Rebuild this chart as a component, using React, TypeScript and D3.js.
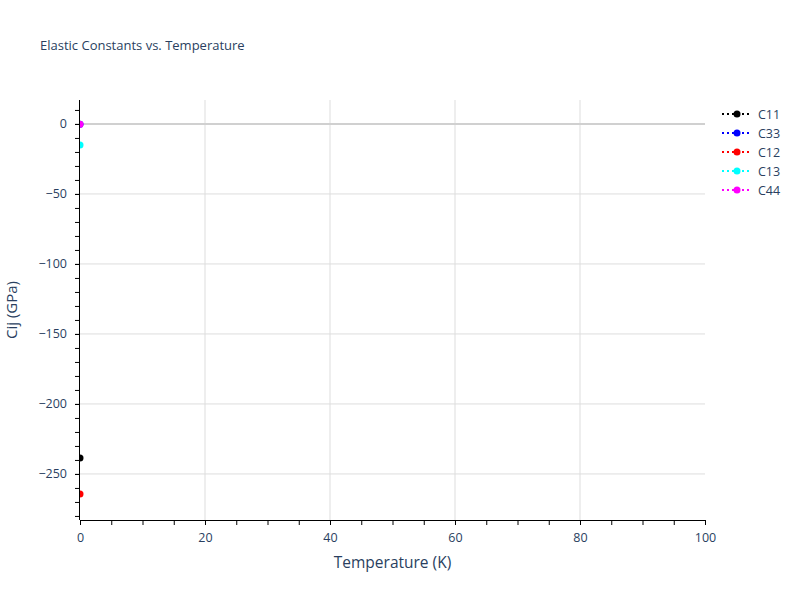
import React, { useRef, useEffect } from 'react';
import * as d3 from 'd3';

// chart data
const temperatures = [0];
const seriesNames = ['C11', 'C33', 'C12', 'C13', 'C44'];
const seriesColors = ['#000000', '#0000ff', '#ff0000', '#00ffff', '#ff00ff'];
const c11 = [-238.6];
const c33 = [-0.3];
const c12 = [-264.3];
const c13 = [-15.0];
const c44 = [-0.3];
const seriesValues = [c11, c33, c12, c13, c44];
const xTicks = [0, 20, 40, 60, 80, 100];
const yTicks = [0, -50, -100, -150, -200, -250];

const App: React.FC = () => {
  const svgRef = useRef<SVGSVGElement>(null);

  useEffect(() => {
    if (!svgRef.current) return;
    const svg = d3.select(svgRef.current);
    svg.selectAll('*').remove();

    const margin = { top: 100, right: 95, bottom: 80, left: 80 };
    const width = 800 - margin.left - margin.right;
    const height = 600 - margin.top - margin.bottom;
    const font = '"Open Sans", verdana, arial, sans-serif';
    const textColor = '#2a3f5f';

    const x = d3.scaleLinear().domain([0, 100]).range([0, width]);
    const y = d3.scaleLinear().domain([-282.9, 17.1]).range([height, 0]);

    svg.append('rect').attr('width', 800).attr('height', 600).attr('fill', '#fff');

    // title
    svg.append('text')
      .attr('x', 40).attr('y', 50)
      .attr('font-family', font).attr('font-size', 13)
      .attr('fill', textColor)
      .text('Elastic Constants vs. Temperature');

    const g = svg.append('g').attr('transform', `translate(${margin.left},${margin.top})`);

    // grid
    g.selectAll('.vgrid').data(xTicks.filter(d => d > 0 && d < 100)).enter()
      .append('line')
      .attr('x1', d => x(d)).attr('x2', d => x(d))
      .attr('y1', 0).attr('y2', height)
      .attr('stroke', '#dddddd').attr('stroke-width', 1);
    g.selectAll('.hgrid').data(yTicks.filter(d => d !== 0)).enter()
      .append('line')
      .attr('x1', 0).attr('x2', width)
      .attr('y1', d => y(d)).attr('y2', d => y(d))
      .attr('stroke', '#dddddd').attr('stroke-width', 1);
    g.append('line')
      .attr('x1', 0).attr('x2', width)
      .attr('y1', y(0)).attr('y2', y(0))
      .attr('stroke', '#d0d0d0').attr('stroke-width', 2);

    // axes
    const xMinor = d3.range(0, 101, 5);
    g.append('g')
      .attr('transform', `translate(0,${height})`)
      .call(d3.axisBottom(x).tickValues(xMinor).tickSize(5).tickFormat(() => ''))
      .call(a => a.select('.domain').remove());
    const xAxis = g.append('g')
      .attr('transform', `translate(0,${height})`)
      .call(d3.axisBottom(x).tickValues(xTicks).tickSize(5).tickPadding(8).tickFormat(d => `${d}`));
    xAxis.select('.domain').attr('stroke', '#000');

    const yMinor = d3.range(-280, 11, 10);
    g.append('g')
      .call(d3.axisLeft(y).tickValues(yMinor).tickSize(5).tickFormat(() => ''))
      .call(a => a.select('.domain').remove());
    const yAxis = g.append('g')
      .call(d3.axisLeft(y).tickValues(yTicks).tickSize(5).tickPadding(8)
        .tickFormat(d => (+d < 0 ? '\u2212' + Math.abs(+d) : `${d}`)));
    yAxis.select('.domain').attr('stroke', '#000');

    [xAxis, yAxis].forEach(ax => {
      ax.selectAll('text').attr('font-family', font).attr('font-size', 12.5).attr('fill', textColor);
    });
    svg.selectAll('.tick line').attr('stroke', '#000');
    xAxis.select('.domain').attr('d', `M0,0.5H${width}`);
    yAxis.select('.domain').attr('d', `M-0.5,${height}V0`);

    // axis titles
    svg.append('text')
      .attr('x', margin.left + width / 2).attr('y', 568)
      .attr('text-anchor', 'middle')
      .attr('font-family', font).attr('font-size', 15.5).attr('fill', textColor)
      .text('Temperature (K)');
    svg.append('text')
      .attr('transform', `translate(17,${margin.top + height / 2}) rotate(-90)`)
      .attr('text-anchor', 'middle')
      .attr('font-family', font).attr('font-size', 15).attr('fill', textColor)
      .text('Cij (GPa)');

    // data
    svg.append('clipPath').attr('id', 'plotclip')
      .append('rect').attr('width', width).attr('height', height);
    const dataG = g.append('g').attr('clip-path', 'url(#plotclip)');
    seriesValues.forEach((vals, si) => {
      const line = d3.line<number>().x((d, i) => x(temperatures[i])).y(d => y(d));
      dataG.append('path')
        .datum(vals)
        .attr('fill', 'none')
        .attr('stroke', seriesColors[si])
        .attr('stroke-width', 2)
        .attr('stroke-dasharray', '2,3')
        .attr('d', line);
      dataG.selectAll(null).data(vals).enter()
        .append('circle')
        .attr('cx', (d, i) => x(temperatures[i]))
        .attr('cy', d => y(d))
        .attr('r', 3.5)
        .attr('fill', seriesColors[si]);
    });

    // legend
    const legend = svg.append('g').attr('transform', 'translate(722,114)');
    seriesNames.forEach((name, i) => {
      const row = legend.append('g').attr('transform', `translate(0,${i * 19})`);
      row.append('line')
        .attr('x1', 0).attr('x2', 30).attr('y1', 0).attr('y2', 0)
        .attr('stroke', seriesColors[i]).attr('stroke-width', 2)
        .attr('stroke-dasharray', '2,3');
      row.append('circle').attr('cx', 15).attr('cy', 0).attr('r', 3.5).attr('fill', seriesColors[i]);
      row.append('text')
        .attr('x', 36).attr('y', 4.5)
        .attr('font-family', font).attr('font-size', 12.5).attr('fill', textColor)
        .text(name);
    });
  }, []);

  return (
    <svg ref={svgRef} width={800} height={600} style={{ position: 'absolute', left: 0, top: 0 }} />
  );
};

export default App;
